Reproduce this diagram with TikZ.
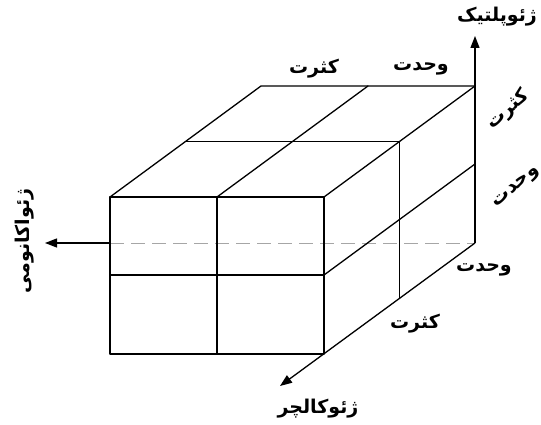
\documentclass[tikz,border=0pt]{standalone}
\usepackage{fontspec}
\newfontfamily\fa[Script=Arabic]{DejaVu Sans}
\TeXXeTstate=1
\usetikzlibrary{arrows.meta}
\newcommand{\fatext}[1]{{\fa\bfseries\beginR #1\endR}}
\tikzset{
  edge/.style={line width=1.3pt, line cap=round, line join=round},
  axis/.style={line width=1.3pt, -{Triangle[length=12pt,width=9pt]}},
  hidden/.style={line width=1pt, gray!70, dash pattern=on 14pt off 7pt},
  lab/.style={font=\fontsize{19}{21}\selectfont, inner sep=0pt}
}
\begin{document}
\begin{tikzpicture}[x=1pt,y=-1pt]
\useasboundingbox (0,0) rectangle (541,425);
% front face
\coordinate (FTL) at (110,197); \coordinate (FTM) at (217,197); \coordinate (FTR) at (324,197);
\coordinate (FML) at (110,275); \coordinate (FMM) at (217,275); \coordinate (FMR) at (324,275);
\coordinate (FBL) at (110,354); \coordinate (FBM) at (217,354); \coordinate (FBR) at (324,354);
% middle layer
\coordinate (MTL) at (185.5,141.5); \coordinate (MTR) at (399.5,141.5); \coordinate (MBR) at (399.5,298.5);
% back
\coordinate (BTL) at (261,86); \coordinate (BTM) at (368,86); \coordinate (BTR) at (475,86);
\coordinate (BMR) at (475,164); \coordinate (BBR) at (475,243);
% axis ends
\coordinate (DL) at (110,243);
\coordinate (Xtip) at (45,243);
\coordinate (Ytip) at (475,36);
\coordinate (Ztip) at (280,386);

% dashed hidden line
\draw[hidden] (DL) -- (BBR);
% front face
\draw[edge] (FTL) rectangle (FBR);
\draw[edge] (FTM) -- (FBM);
\draw[edge] (FML) -- (FMR);
% top face
\draw[edge] (FTL) -- (BTL) -- (BTR);
\draw[edge] (FTM) -- (BTM);
\draw[edge] (FTR) -- (BTR);
\draw[edge] (MTL) -- (MTR);
% right face
\draw[edge] (MTR) -- (MBR);
\draw[edge] (FMR) -- (BMR);
% axes
\draw[axis] (BBR) -- (Ytip);
\draw[axis] (BBR) -- (Ztip);
\draw[axis] (DL) -- (Xtip);

% labels
\node[lab] (ly) at (497,17) {\fatext{ژئوپلتیک}};
\node[lab] (t1) at (314,69) {\fatext{کثرت}};
\node[lab] (t2) at (421,69) {\fatext{وحدت}};
\node[lab, rotate=40] (r1) at (508,110) {\fatext{کثرت}};
\node[lab, rotate=40] (r2) at (517,188) {\fatext{وحدت}};
\node[lab] (d1) at (484,270) {\fatext{وحدت}};
\node[lab] (d2) at (415,324) {\fatext{کثرت}};
\node[lab, rotate=90] (lx) at (25,241) {\fatext{ژئواکانومی}};
\node[lab] (lz) at (318,409) {\fatext{ژئوکالچر}};
\end{tikzpicture}
\end{document}
